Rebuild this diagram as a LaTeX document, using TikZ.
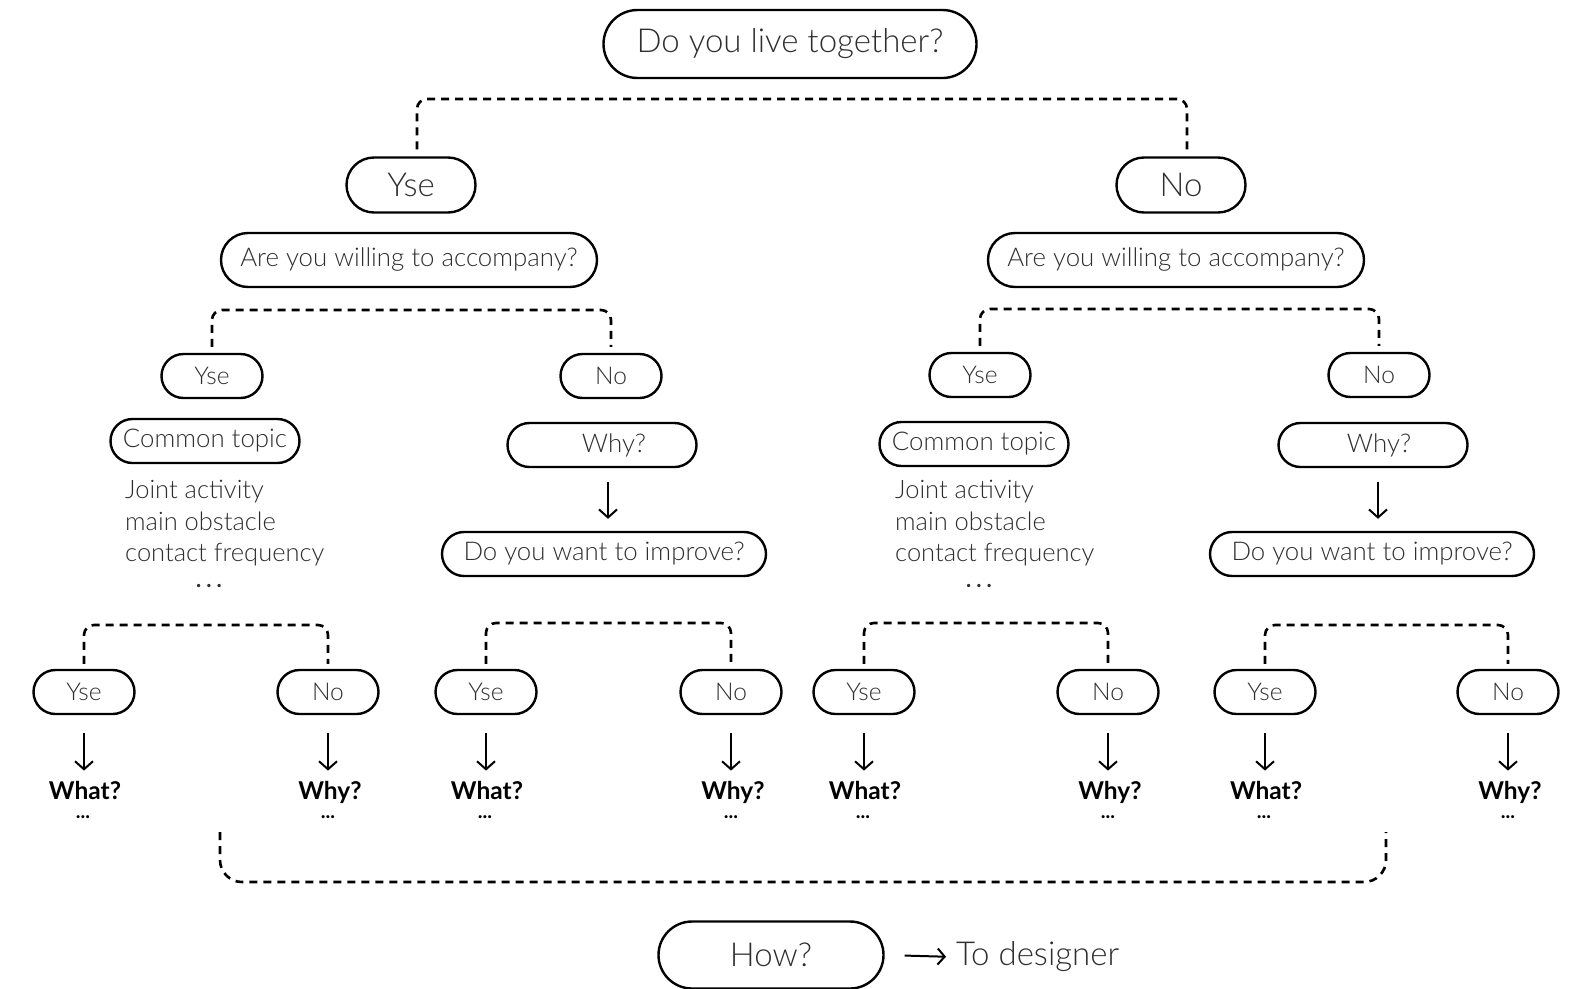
\documentclass[tikz,border=0pt]{standalone}
\usepackage{fontspec}
\setmainfont{Lato}[UprightFont=* Light, BoldFont=* Bold]
\usetikzlibrary{shapes.misc,arrows.meta}

\begin{document}
\begin{tikzpicture}[x=1pt,y=-1pt,
  pill/.style={rounded rectangle, draw=black, line width=2.4pt, inner sep=0pt,
    text=black!82, font=\fontsize{25.8}{30}\selectfont},
  bigpill/.style={pill, font=\fontsize{33}{40}\selectfont},
  smallpill/.style={pill, minimum width=101pt, minimum height=44pt, font=\fontsize{24.5}{29}\selectfont},
  midpill/.style={pill, minimum width=189pt, minimum height=44pt},
  dashbr/.style={line width=2.6pt, dash pattern=on 8pt off 6pt, rounded corners=10pt},
  downarr/.style={line width=2pt, -{Straight Barb[length=8pt,width=18pt,line width=2pt]}},
  answer/.style={font=\bfseries\fontsize{24.5}{28}\selectfont, text=black, inner sep=0pt, anchor=base},
  dots/.style={font=\bfseries\fontsize{20}{24}\selectfont, text=black, inner sep=0pt},
  plain/.style={font=\fontsize{25.5}{31.5}\selectfont, text=black!82, inner sep=0pt, align=left, anchor=north west},
  listdots/.style={font=\bfseries\fontsize{22}{26}\selectfont, text=black!82, inner sep=0pt}
]
\useasboundingbox (0,0) rectangle (1581,988);

% root question
\node[bigpill, minimum width=373pt, minimum height=68pt] (root) at (790,44) {\raisebox{-2pt}{Do you live together?}};

% first split
\node[bigpill, minimum width=129pt, minimum height=55pt] (y1) at (411,185) {Yse};
\node[bigpill, minimum width=129pt, minimum height=55pt] (n1) at (1181,185) {No};
\draw[dashbr] ([shift={(6pt,7pt)}]y1.north) -- ([xshift=6pt]y1.north |- 0,99) -- ([xshift=6pt]n1.north |- 0,99) -- ([shift={(6pt,7pt)}]n1.north);

\node[pill, minimum width=376pt, minimum height=54pt] (accL) at (409,260) {Are you willing to accompany?};
\node[pill, minimum width=376pt, minimum height=54pt] (accR) at (1176,260) {Are you willing to accompany?};

% second split, left
\node[smallpill] (yL) at (212,376) {Yse};
\node[smallpill] (nL) at (611,376) {No};
\draw[dashbr] ([yshift=6pt]yL.north) -- (yL.north |- 0,310) -- (nL.north |- 0,310) -- ([yshift=6pt]nL.north);

% second split, right
\node[smallpill] (yR) at (980,375) {Yse};
\node[smallpill] (nR) at (1379,375) {No};
\draw[dashbr] ([yshift=6pt]yR.north) -- (yR.north |- 0,309) -- (nR.north |- 0,309) -- ([yshift=6pt]nR.north);

% willing: common topics
\node[midpill] (ctL) at (205,441) {Common topic};
\node[plain] (listL) at (125,480) {Joint activity\\main obstacle\\contact frequency};
\node[listdots] (dotsL) at (209,586) {.\hspace{5pt}.\hspace{5pt}.};

\node[midpill] (ctR) at (974,444) {Common topic};
\node[plain] (listR) at (895,480) {Joint activity\\main obstacle\\contact frequency};
\node[listdots] (dotsR) at (979,586) {.\hspace{5pt}.\hspace{5pt}.};

% not willing: why, then improvement
\node[midpill] (whyL) at (602,445) {\hspace*{24pt}Why?};
\node[pill, minimum width=324pt, minimum height=44pt] (impL) at (604,554) {Do you want to improve?};
\draw[downarr, shorten <=14pt, shorten >=12pt] ([xshift=6pt]whyL.south) -- ([xshift=6pt]whyL.south |- impL.north);

\node[midpill] (whyR) at (1373,445) {\hspace*{12pt}Why?};
\node[pill, minimum width=324pt, minimum height=44pt] (impR) at (1372,554) {Do you want to improve?};
\draw[downarr, shorten <=14pt, shorten >=12pt] ([xshift=5pt]whyR.south) -- ([xshift=5pt]whyR.south |- impR.north);

% third level: four yes/no pairs
\foreach \i/\xa/\xb/\yb in {1/84/328/625, 2/486/731/623, 3/864/1108/623, 4/1265/1508/625} {
  \node[smallpill] (ya\i) at (\xa,692) {Yse};
  \node[smallpill] (na\i) at (\xb,692) {No};
  \draw[dashbr] ([yshift=5pt]ya\i.north) -- (ya\i.north |- 0,\yb) -- (na\i.north |- 0,\yb) -- ([yshift=5pt]na\i.north);
  \node[answer] (wa\i) at (\xa+1,799) {What?};
  \node[answer] (wb\i) at (\xb+2,799) {Why?};
  \node[dots] (da\i) at (\xa-1,817) {...};
  \node[dots] (db\i) at (\xb,817) {...};
  \draw[downarr, shorten <=18pt, shorten >=10pt] (ya\i.south) -- (ya\i.south |- wa\i.north);
  \draw[downarr, shorten <=18pt, shorten >=10pt] (na\i.south) -- (na\i.south |- wb\i.north);
}

% gathering bracket
\coordinate (gl) at (220,832);
\coordinate (gr) at (1386,832);
\draw[dashbr, rounded corners=22pt] (gl) -- (gl |- 0,882) -- (gr |- 0,882) -- (gr);

% outcome
\node[pill, minimum width=225pt, minimum height=67pt, font=\fontsize{33}{38}\selectfont] (how) at (771,955) {How?};
\node[anchor=west, inner sep=0pt, font=\fontsize{33}{38}\selectfont, text=black!82] (des) at (956,957) {To designer};
\draw[line width=2pt, -{Straight Barb[length=7pt,width=16pt,line width=2pt]}, shorten <=20pt, shorten >=10pt] (how.east) -- (des.west);
\end{tikzpicture}
\end{document}
